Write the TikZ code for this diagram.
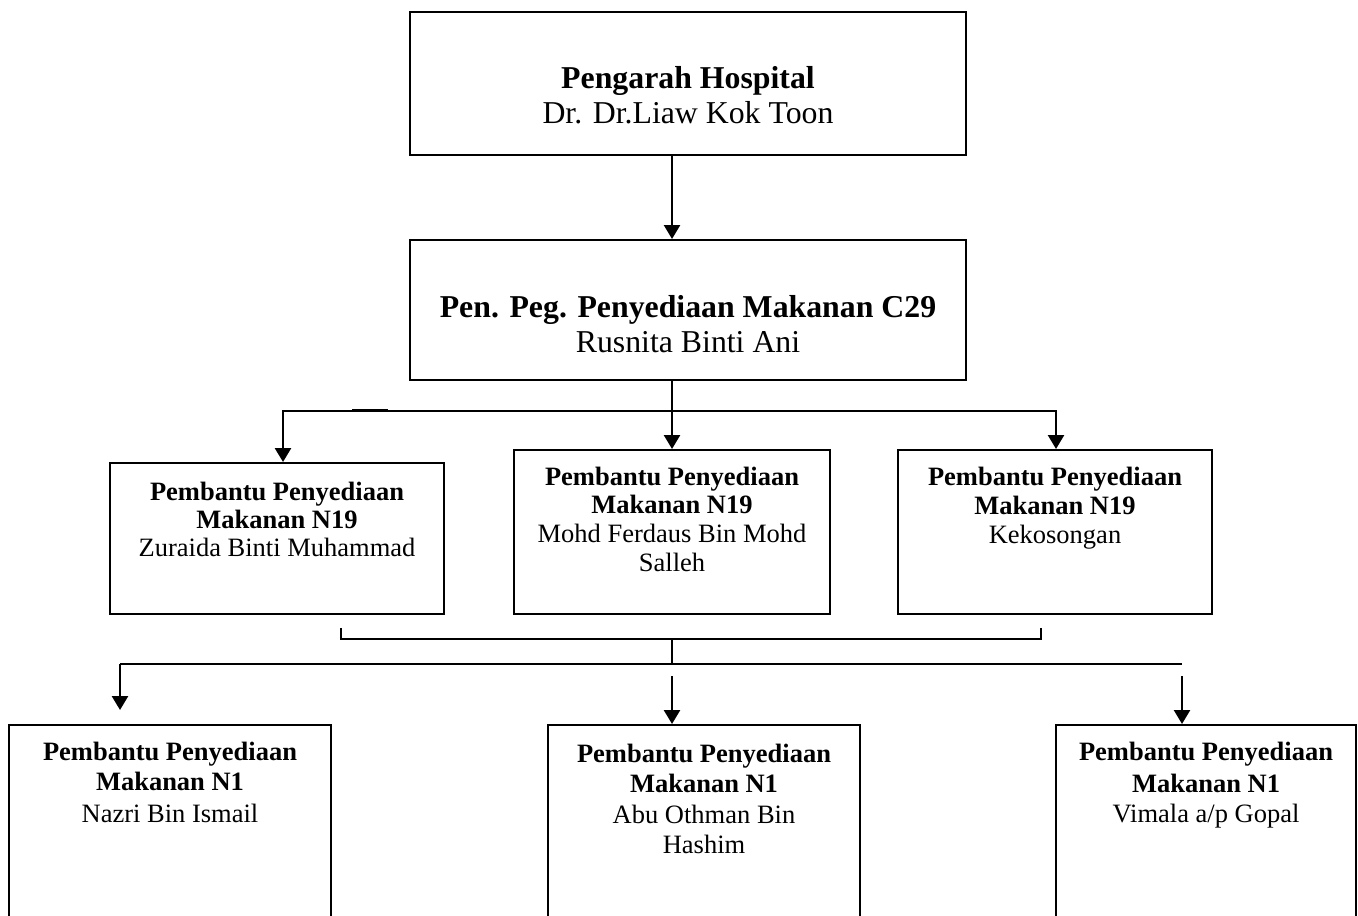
\documentclass[tikz,border=0pt]{standalone}
\usepackage{fontspec}
\setmainfont{Liberation Serif}
\usetikzlibrary{arrows.meta,fit}
\begin{document}
\begin{tikzpicture}[x=0.5pt,y=-0.5pt,
  box/.style={draw, line width=1pt, inner sep=0pt, rectangle},
  arr/.style={line width=1.3pt, -{Triangle[width=8pt,length=7pt]}},
  ln/.style={line width=1pt},
  thinln/.style={line width=0.85pt},
  tb/.style={anchor=base, inner sep=0pt, font=\fontsize{13.25pt}{15pt}\selectfont\bfseries},
  tn/.style={anchor=base, inner sep=0pt, font=\fontsize{13.25pt}{15pt}\selectfont},
  Tb/.style={anchor=base, inner sep=0pt, font=\fontsize{15.9pt}{18pt}\selectfont\bfseries},
  Tn/.style={anchor=base, inner sep=0pt, font=\fontsize{15.9pt}{18pt}\selectfont}]
\useasboundingbox (0,0) rectangle (1358,915);
% boxes
\node[box, fit={(410,12) (966,155)}] (B0) {};
\node[box, fit={(410,240) (966,380)}] (B1) {};
\node[box, fit={(110,463) (444,614)}] (C1) {};
\node[box, fit={(514,450) (830,614)}] (C2) {};
\node[box, fit={(898,450) (1212,614)}] (C3) {};
\node[box, fit={(9,725) (331,940)}] (D1) {};
\node[box, fit={(548,725) (860,940)}] (D2) {};
\node[box, fit={(1056,725) (1356,940)}] (D3) {};
% texts
\node[Tb] (t0a) at (688,89) {Pengarah Hospital};
\node[Tn] (t0b) at (688,124) {Dr. Dr.Liaw Kok Toon};
\node[Tb] (t1a) at (688,317) {Pen. Peg. Penyediaan Makanan C29};
\node[Tn] (t1b) at (688,352) {Rusnita Binti Ani};
\node[tb] (c1a) at (277,500) {Pembantu Penyediaan};
\node[tb] (c1b) at (277,528) {Makanan N19};
\node[tn] (c1c) at (277,556) {Zuraida Binti Muhammad};
\node[tb] (c2a) at (672,485) {Pembantu Penyediaan};
\node[tb] (c2b) at (672,513) {Makanan N19};
\node[tn] (c2c) at (672,542) {Mohd Ferdaus Bin Mohd};
\node[tn] (c2d) at (672,571) {Salleh};
\node[tb] (c3a) at (1055,485) {Pembantu Penyediaan};
\node[tb] (c3b) at (1055,514) {Makanan N19};
\node[tn] (c3c) at (1055,543) {Kekosongan};
\node[tb] (d1a) at (170,760) {Pembantu Penyediaan};
\node[tb] (d1b) at (170,790) {Makanan N1};
\node[tn] (d1c) at (170,822) {Nazri Bin Ismail};
\node[tb] (d2a) at (704,762) {Pembantu Penyediaan};
\node[tb] (d2b) at (704,792) {Makanan N1};
\node[tn] (d2c) at (704,823) {Abu Othman Bin};
\node[tn] (d2d) at (704,853) {Hashim};
\node[tb] (d3a) at (1206,760) {Pembantu Penyediaan};
\node[tb] (d3b) at (1206,792) {Makanan N1};
\node[tn] (d3c) at (1206,822) {Vimala a/p Gopal};
% connectors
\coordinate (cx) at (672,0);
\draw[arr] (B0.south -| cx) -- (B1.north -| cx);
\draw[arr] (B1.south -| cx) -- (C2.north -| cx);
\coordinate (bl) at (283,411);
\coordinate (brt) at (1056,411);
\draw[arr] (bl -| cx) -- (bl) -- (bl |- C1.north);
\draw[arr] (bl -| cx) -- (brt) -- (brt |- C3.north);
\draw[line width=1pt] (352,409.8) -- (388,409.8);
% bracket
\coordinate (k1) at (341,628);
\coordinate (k2) at (1041,628);
\coordinate (kb) at (672,639);
\coordinate (km) at (672,664);
\draw[thinln] (k1) -- (k1 |- kb) -- (k2 |- kb) -- (k2);
\draw[thinln] (kb) -- (km);
\coordinate (L) at (120,664);
\coordinate (R) at (1182,664);
\coordinate (Ltip) at (120,710);
\draw[thinln, line cap=square] (R) -- (L);
\draw[arr] (L) -- (Ltip);
\coordinate (ms) at (672,676);
\coordinate (rs) at (1182,676);
\draw[arr] (ms) -- (ms |- D2.north);
\draw[arr] (rs) -- (rs |- D3.north);
\end{tikzpicture}
\end{document}
